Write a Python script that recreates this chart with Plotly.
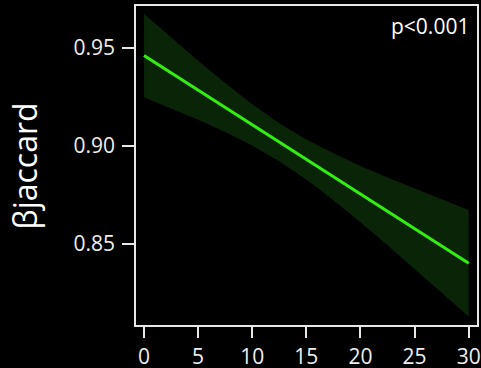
import plotly.graph_objects as go

# Data
x_vals = [0, 2.5, 5, 7.5, 10, 12.5, 15, 17.5, 20, 22.5, 25, 27.5, 30]
fit = [0.9460, 0.9372, 0.9283, 0.9195, 0.9107, 0.9018, 0.8930, 0.8842, 0.8753, 0.8665, 0.8577, 0.8488, 0.8400]
upper = [0.9673, 0.9552, 0.9434, 0.9320, 0.9212, 0.9115, 0.9032, 0.8961, 0.8897, 0.8838, 0.8782, 0.8726, 0.8672]
lower = [0.9247, 0.9191, 0.9132, 0.9070, 0.9001, 0.8921, 0.8828, 0.8722, 0.8609, 0.8492, 0.8372, 0.8250, 0.8128]
x_ticks = [0, 5, 10, 15, 20, 25, 30]
y_ticks = [0.85, 0.90, 0.95]
y_tick_labels = ["0.85", "0.90", "0.95"]
y_title = "βjaccard"
p_text = "p<0.001"

FONT = "Open Sans"

fig = go.Figure()
fig.add_trace(go.Scatter(
    x=x_vals + x_vals[::-1], y=upper + lower[::-1],
    fill="toself", fillcolor="rgb(9,36,7)", line=dict(width=0),
    mode="lines", hoverinfo="skip", showlegend=False))
fig.add_trace(go.Scatter(
    x=x_vals, y=fit, mode="lines",
    line=dict(color="#33ee11", width=3), showlegend=False))

fig.update_layout(
    width=481, height=368,
    margin=dict(l=136, r=4, t=6, b=43),
    paper_bgcolor="black", plot_bgcolor="black",
    font=dict(family=FONT, color="white", size=21),
    xaxis=dict(range=[-0.74, 30.77], tickvals=x_ticks, showgrid=False, zeroline=False,
               automargin=False,
               showline=True, mirror=True, linecolor="#e8e8e8", linewidth=1.5,
               ticks="outside", ticklen=11, tickwidth=1.5, tickcolor="#e8e8e8",
               ticklabelstandoff=1,
               tickfont=dict(size=21, color="#eeeeee")),
    yaxis=dict(range=[0.8085, 0.9713], tickvals=y_ticks, ticktext=y_tick_labels,
               showgrid=False, zeroline=False, automargin=False,
               showline=True, mirror=True, linecolor="#e8e8e8", linewidth=1.5,
               ticks="outside", ticklen=12, tickwidth=1.5, tickcolor="#e8e8e8",
               ticklabelstandoff=3,
               tickfont=dict(size=21, color="#eeeeee")),
    annotations=[
        dict(text=y_title, textangle=-90, xref="paper", yref="paper",
             x=-0.317, y=0.5, xanchor="center", yanchor="middle", xshift=-3,
             showarrow=False, font=dict(size=32, color="white", family=FONT)),
        dict(text=p_text, xref="paper", yref="paper", x=1, y=1,
             xanchor="right", yanchor="top", xshift=-6, yshift=-4,
             showarrow=False, font=dict(size=21, color="white", family=FONT)),
    ],
)

fig.write_html("out.html", config={"displayModeBar": False},
               post_script="document.body.style.margin='0';document.body.style.background='black';")
